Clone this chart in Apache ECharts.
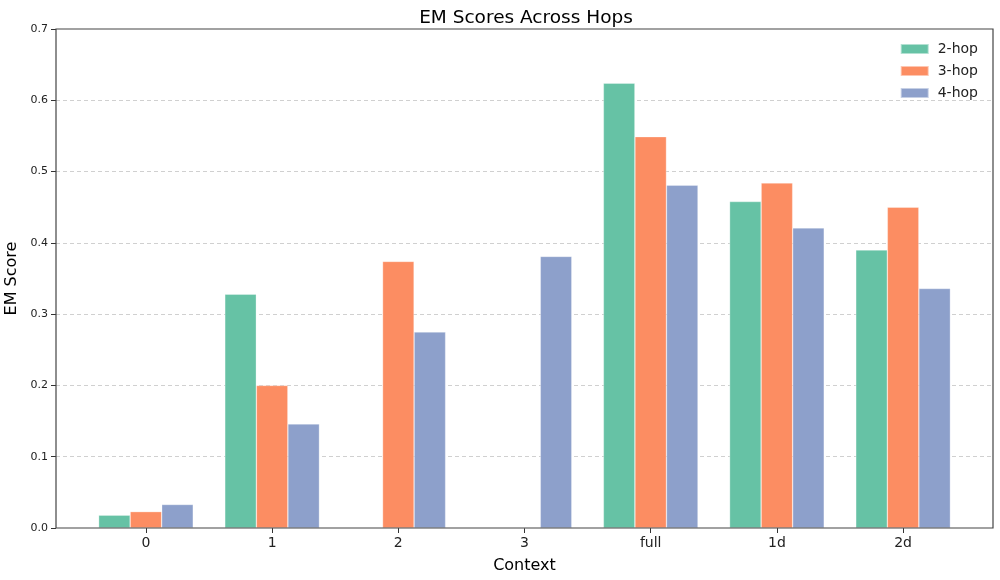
<!DOCTYPE html>
<html>
<head>
<meta charset="utf-8">
<script src="https://cdn.jsdelivr.net/npm/echarts@6/dist/echarts.min.js"></script>
<style>html,body{margin:0;padding:0;background:#fff}#c{width:1000px;height:580px}</style>
</head>
<body>
<div id="c"></div>
<script>
const categories = ['0', '1', '2', '3', 'full', '1d', '2d'];
const hop2 = [0.018, 0.328, 0, 0, 0.624, 0.458, 0.390];
const hop3 = [0.023, 0.200, 0.374, 0, 0.549, 0.484, 0.450];
const hop4 = [0.033, 0.146, 0.275, 0.381, 0.481, 0.421, 0.336];
const seriesNames = ['2-hop', '3-hop', '4-hop'];
const yTicks = [0, 0.1, 0.2, 0.3, 0.4, 0.5, 0.6, 0.7];

const colors = ['#66c2a5', '#fc8d62', '#8da0cb'];
const font = 'DejaVu Sans';
const chart = echarts.init(document.getElementById('c'), null, {renderer: 'canvas'});

const frameL = 56, frameR = 1000 - 993, gridTop = 29, gridBottom = 580 - 528;
const unit = (993 - 56) / 7.425;
const pad = (0.7125 - 0.5) * unit;

chart.setOption({
  animation: false,
  backgroundColor: '#fff',
  color: colors,
  title: {
    text: 'EM Scores Across Hops', left: 521, textAlign: 'center', top: 4,
    textStyle: {fontFamily: font, fontSize: 18.5, fontWeight: 'normal', color: '#000'}
  },
  legend: {
    orient: 'vertical', right: 17, top: 37,
    itemWidth: 28, itemHeight: 10, itemGap: 8, icon: 'rect',
    textStyle: {fontFamily: font, fontSize: 14, color: '#222', padding: [0, 0, 0, 4]},
    data: seriesNames
  },
  grid: [
    {left: frameL + pad, right: frameR + pad, top: gridTop, bottom: gridBottom, containLabel: false, outerBoundsMode: 'none'},
    {left: frameL, right: frameR, top: gridTop, bottom: gridBottom, show: true, borderColor: '#444', borderWidth: 1.2, containLabel: false, outerBoundsMode: 'none', z: 5}
  ],
  xAxis: [
    {
      type: 'category', gridIndex: 0, data: categories,
      axisLine: {show: false},
      axisTick: {show: true, alignWithLabel: true, length: 5, lineStyle: {color: '#333'}},
      axisLabel: {fontFamily: font, fontSize: 14, color: '#222', margin: 8},
      name: 'Context', nameLocation: 'middle', nameGap: 30,
      nameTextStyle: {fontFamily: font, fontSize: 16, color: '#000'}
    },
    {type: 'value', gridIndex: 1, show: false}
  ],
  yAxis: [
    {type: 'value', gridIndex: 0, min: 0, max: 0.7, interval: 0.1, show: false},
    {
      type: 'value', gridIndex: 1, min: 0, max: 0.7, interval: 0.1,
      axisLine: {show: false},
      axisTick: {show: true, length: 5, lineStyle: {color: '#333'}},
      axisLabel: {fontFamily: font, fontSize: 11, color: '#222', margin: 8,
        formatter: v => yTicks.includes(Math.round(v * 10) / 10) ? (Math.round(v * 10) / 10).toFixed(1) : ''},
      splitLine: {show: true, showMinLine: false, showMaxLine: false, lineStyle: {color: '#d0d0d0', type: [4, 3], width: 1}},
      name: 'EM Score', nameLocation: 'middle', nameGap: 33, nameRotate: 90,
      nameTextStyle: {fontFamily: font, fontSize: 16, color: '#000'}
    }
  ],
  series: [hop2, hop3, hop4].map((d, i) => ({
    name: seriesNames[i], type: 'bar', xAxisIndex: 0, yAxisIndex: 0,
    data: d, barWidth: unit * 0.25, barGap: '0%',
    itemStyle: {color: colors[i], borderColor: 'rgba(255,255,255,0.5)', borderWidth: 0.6}
  }))
});
</script>
</body>
</html>
